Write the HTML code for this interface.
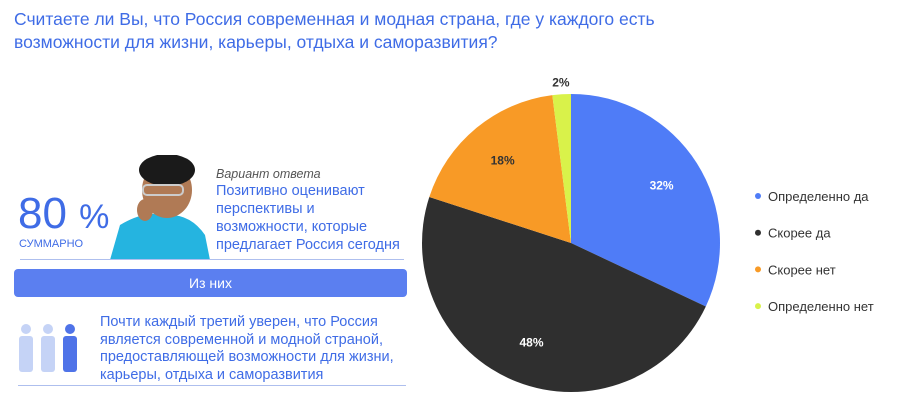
<!DOCTYPE html>
<html><head><meta charset="utf-8"><style>
body{margin:0;width:900px;height:418px;background:#fff;font-family:"Liberation Sans","Noto Sans CJK SC",sans-serif;overflow:hidden;position:relative}
.a{position:absolute}
.blue{color:#3f6ce6}
</style></head><body>
<div class="a blue" style="left:14px;top:8px;font-size:17.5px;line-height:23px;width:660px">Считаете ли Вы, что Россия современная и модная страна, где у каждого есть возможности для жизни, карьеры, отдыха и саморазвития?</div>
<div class="a blue" style="left:18px;top:190px;font-size:44px;line-height:48px">80 <span style="font-size:34px">%</span></div>
<div class="a blue" style="left:19px;top:238px;font-size:11px">СУММАРНО</div>
<svg class="a" style="left:105px;top:155px" width="110" height="105">
<path d="M5 105 L15 70 Q40 55 60 60 Q85 58 100 80 L105 105Z" fill="#25b4e0"/>
<ellipse cx="62" cy="35" rx="25" ry="28" fill="#b07a55"/>
<ellipse cx="62" cy="15" rx="28" ry="16" fill="#1a1a1a"/>
<rect x="38" y="30" width="40" height="10" rx="4" fill="none" stroke="#ccc" stroke-width="2"/>
<ellipse cx="40" cy="55" rx="8" ry="11" fill="#b07a55"/>
</svg>
<div class="a" style="left:216px;top:167px;font-size:12.5px;font-style:italic;color:#555">Вариант ответа</div>
<div class="a blue" style="left:216px;top:182px;font-size:14.5px;line-height:18px">Позитивно оценивают<br>перспективы и<br>возможности, которые<br>предлагает Россия сегодня</div>
<div class="a" style="left:20px;top:259px;width:384px;height:1px;background:#aebfee"></div>
<div class="a" style="left:14px;top:269px;width:393px;height:28px;background:#5b7ff0;border-radius:4px;color:#fff;font-size:14px;line-height:28px;text-align:center">Из них</div>
<svg class="a" style="left:14px;top:323px" width="70" height="50">
<g fill="#c5d3f6"><circle cx="12" cy="6" r="5"/><rect x="5" y="13" width="14" height="36" rx="3"/><circle cx="34" cy="6" r="5"/><rect x="27" y="13" width="14" height="36" rx="3"/></g>
<g fill="#4f73e8"><circle cx="56" cy="6" r="5"/><rect x="49" y="13" width="14" height="36" rx="3"/></g>
</svg>
<div class="a blue" style="left:100px;top:314px;font-size:14.5px;line-height:17.5px">Почти каждый третий уверен, что Россия<br>является современной и модной страной,<br>предоставляющей возможности для жизни,<br>карьеры, отдыха и саморазвития</div>
<div class="a" style="left:18px;top:385px;width:388px;height:1px;background:#aebfee"></div>
<svg id="pie" class="a" style="left:0;top:0" width="900" height="418"></svg>
<script>
const categories=["Определенно да","Скорее да","Скорее нет","Определенно нет"];
const values=[32,48,18,2];
const colors=["#4f7cf7","#2f2f2f","#f89a26","#d9f24a"];
const labelColors=["#fff","#fff","#333","#333"];
const svg=document.getElementById('pie');const NS="http://www.w3.org/2000/svg";
const cx=571,cy=243,r=149;
const total=values.reduce((a,b)=>a+b,0);
let ang=0;
function pt(a,rr){return [cx+rr*Math.sin(a),cy-rr*Math.cos(a)];}
values.forEach((v,i)=>{
 const a0=ang,a1=ang+v/total*2*Math.PI;ang=a1;
 const p0=pt(a0,r),p1=pt(a1,r);
 const p=document.createElementNS(NS,'path');
 p.setAttribute('d',`M${cx},${cy}L${p0[0]},${p0[1]}A${r},${r} 0 ${a1-a0>Math.PI?1:0} 1 ${p1[0]},${p1[1]}Z`);
 p.setAttribute('fill',colors[i]);
 
 
 svg.appendChild(p);
 const m=(a0+a1)/2;const lr=v<5?r+12:r*0.72;const lp=pt(m,lr);
 const t=document.createElementNS(NS,'text');
 t.setAttribute('x',lp[0]);t.setAttribute('y',lp[1]+4);t.setAttribute('text-anchor','middle');
 t.setAttribute('font-size','12');t.setAttribute('font-weight','bold');
 t.setAttribute('fill',v<5?'#333':labelColors[i]);
 t.setAttribute('font-family','Liberation Sans, sans-serif');
 t.textContent=v+'%';
 
 
 svg.appendChild(t);
});
categories.forEach((c,i)=>{
 const y=196+i*36.7;
 const d=document.createElementNS(NS,'circle');
 d.setAttribute('cx',758);d.setAttribute('cy',y);d.setAttribute('r',3);d.setAttribute('fill',colors[i]);
 
 
 svg.appendChild(d);
 const t=document.createElementNS(NS,'text');
 t.setAttribute('x',768);t.setAttribute('y',y+5);t.setAttribute('font-size','13');t.setAttribute('fill','#333');
 t.setAttribute('font-family','Liberation Sans, sans-serif');
 t.textContent=c;
 
 
 svg.appendChild(t);
});
</script>
</body></html>
